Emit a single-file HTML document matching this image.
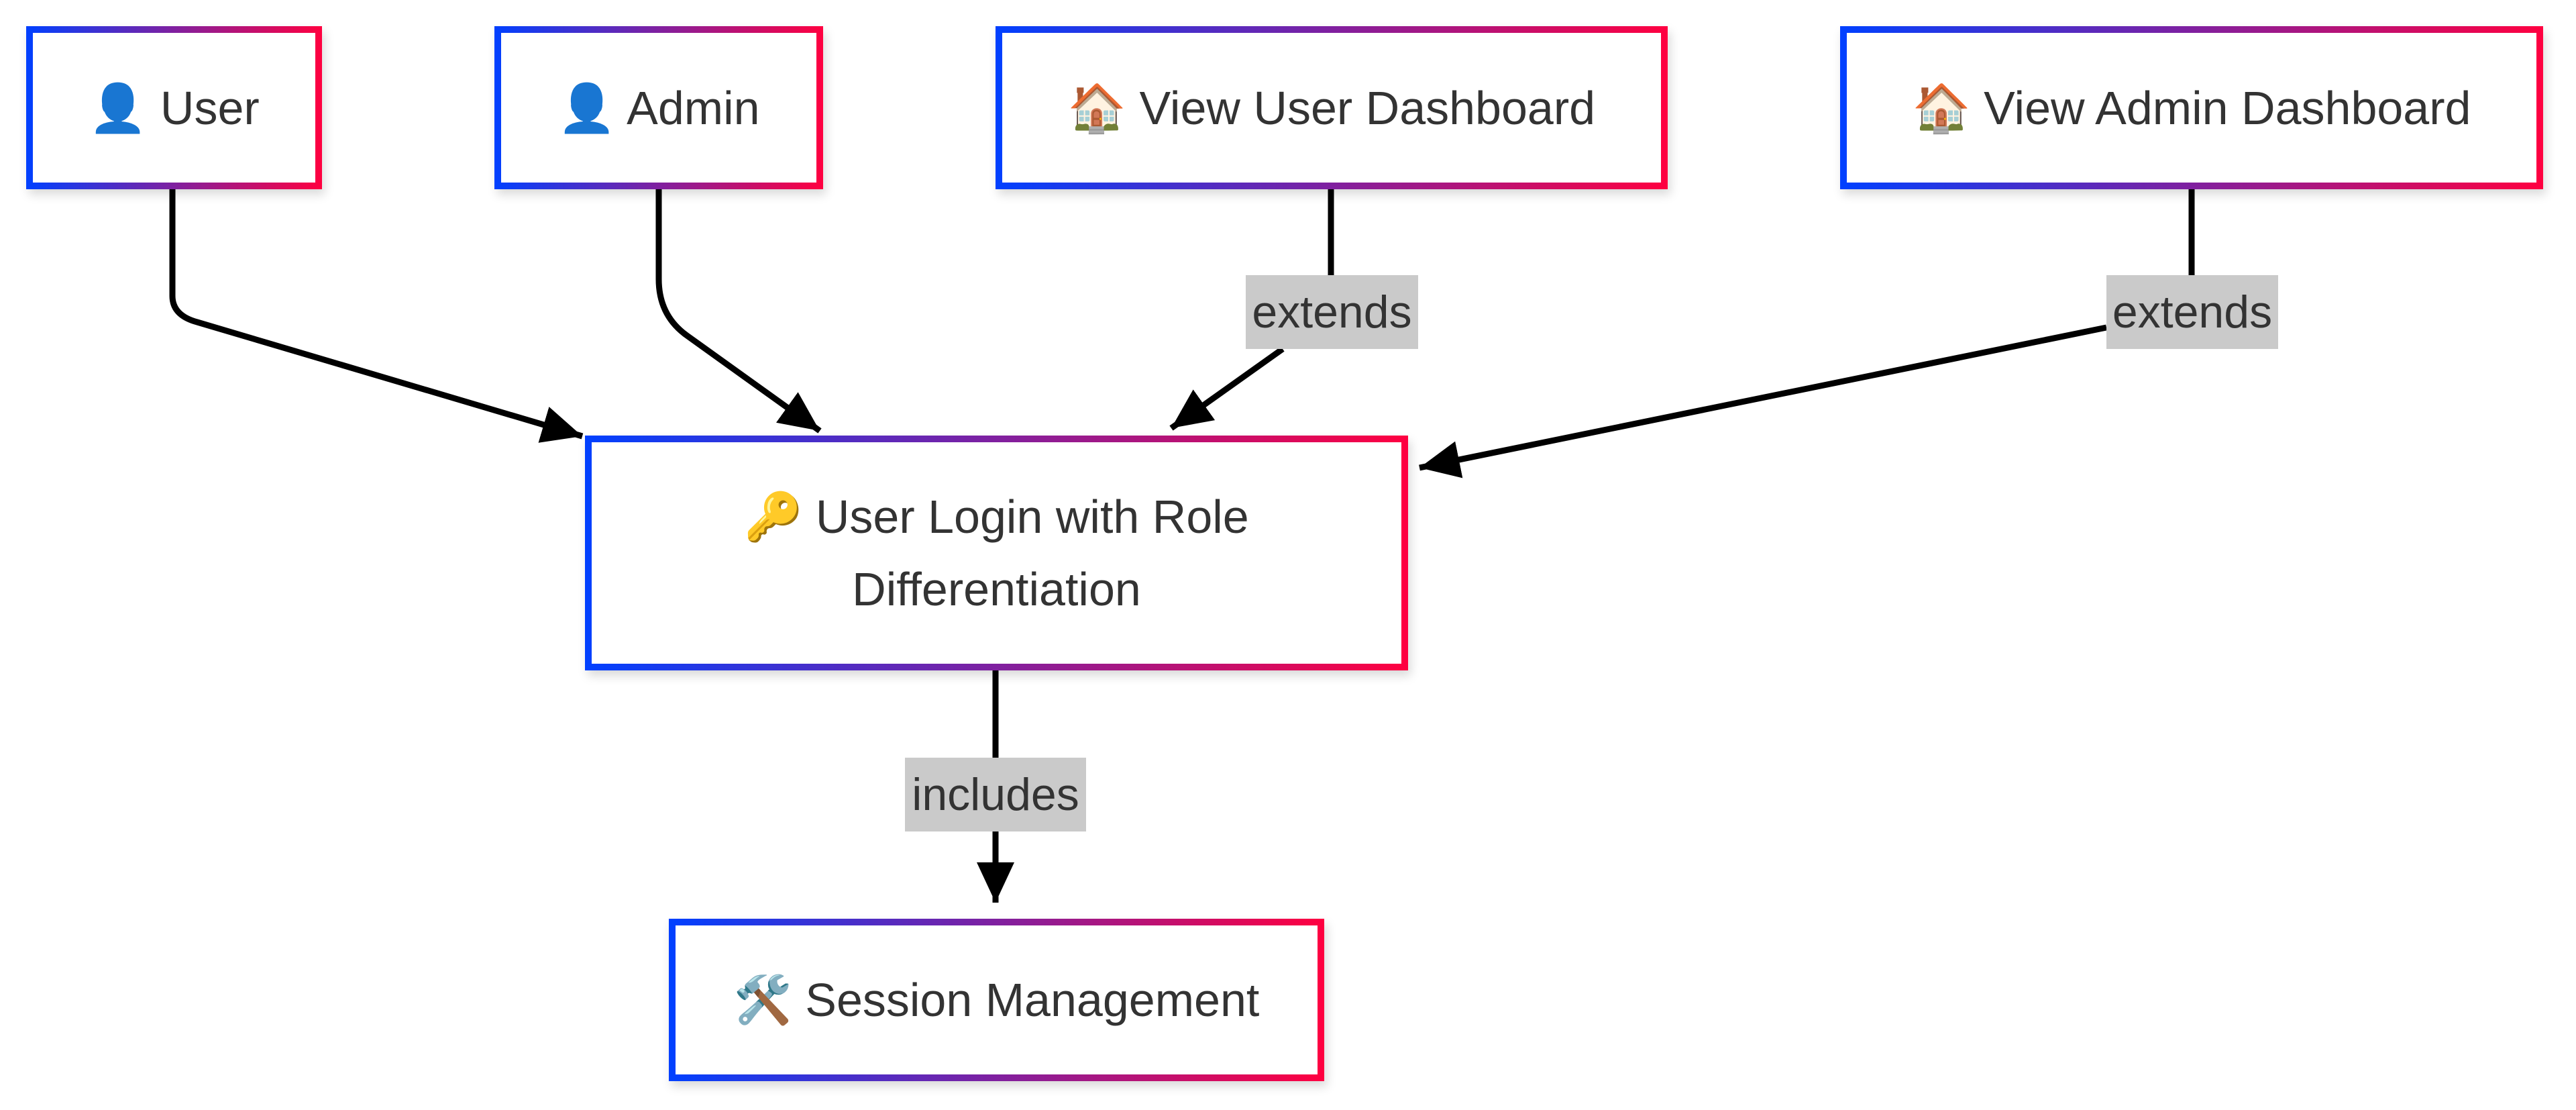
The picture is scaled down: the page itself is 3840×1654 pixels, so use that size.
<!DOCTYPE html>
<html><head><meta charset="utf-8"><style>
html,body{margin:0;padding:0;background:#fff;width:3840px;height:1654px;overflow:hidden;font-family:"Liberation Sans","Noto Sans CJK SC",sans-serif;}
.n{position:absolute;box-sizing:border-box;padding:10px;background:linear-gradient(90deg,#0040ff,#ff0040);box-shadow:4px 8px 14px rgba(0,0,0,0.15);}
.n>div{width:100%;height:100%;background:#fff;display:flex;align-items:center;justify-content:center;text-align:center;font-size:70px;color:#333;line-height:108px;}
.l{position:absolute;background:#cacaca;color:#333;font-size:68px;display:flex;align-items:center;justify-content:center;}
svg{position:absolute;left:0;top:0;}
</style></head><body>
<svg width="3840" height="1654">
<defs><marker id="a" markerUnits="userSpaceOnUse" markerWidth="70" markerHeight="70" refX="60" refY="28" orient="auto"><path d="M0,0 L60,28 L0,56 z" fill="#000"/></marker></defs>
<g stroke="#000" stroke-width="9" fill="none">
<path d="M257,282 L257,441 Q257,470 294,480 L868,650" marker-end="url(#a)"/>
<path d="M982,282 L982,416 Q982,470 1024,500 L1222,642" marker-end="url(#a)"/>
<path d="M1984,282 L1984,410"/>
<path d="M1912,520 L1746,638" marker-end="url(#a)"/>
<path d="M3267,282 L3267,410"/>
<path d="M3140,488 L2116,697" marker-end="url(#a)"/>
<path d="M1484,999 L1484,1129"/>
<path d="M1484,1239 L1484,1345" marker-end="url(#a)"/>
</g></svg>
<div class="n" style="left:39px;top:39px;width:441px;height:243px"><div>👤 User</div></div>
<div class="n" style="left:737px;top:39px;width:490px;height:243px"><div>👤 Admin</div></div>
<div class="n" style="left:1484px;top:39px;width:1002px;height:243px"><div>🏠 View User Dashboard</div></div>
<div class="n" style="left:2743px;top:39px;width:1048px;height:243px"><div>🏠 View Admin Dashboard</div></div>
<div class="n" style="left:872px;top:649px;width:1227px;height:350px"><div>🔑 User Login with Role<br>Differentiation</div></div>
<div class="n" style="left:997px;top:1369px;width:977px;height:242px"><div>🛠️ Session Management</div></div>
<div class="l" style="left:1857px;top:410px;width:257px;height:110px">extends</div>
<div class="l" style="left:3140px;top:410px;width:256px;height:110px">extends</div>
<div class="l" style="left:1349px;top:1129px;width:270px;height:110px">includes</div>
</body></html>
